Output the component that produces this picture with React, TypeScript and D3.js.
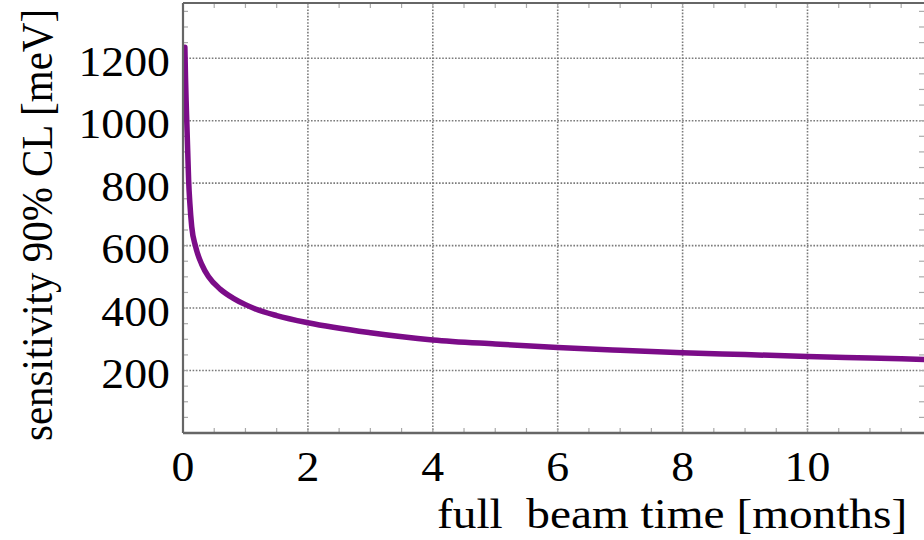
import React from "react";
import * as d3 from "d3";

const months = [0.03, 0.04, 0.05, 0.06, 0.075, 0.09, 0.11, 0.14, 0.2, 0.3, 0.41, 0.6, 0.8, 1.0, 1.15, 1.5, 2, 3, 4, 5, 6, 7, 8, 9, 10, 11, 12];
const sensitivity = [1235, 1140, 1065, 1000, 905, 810, 735, 660, 598, 540, 500, 460, 432, 411, 398, 376, 353, 321, 298, 285, 274, 265, 257, 251, 245, 240, 235];
const xTicks = [0, 2, 4, 6, 8, 10];
const yTicks = [200, 400, 600, 800, 1000, 1200];
const xTitle = "full  beam time [months]";
const yTitle = "sensitivity 90% CL [meV]";

const W = 924, H = 540;
const L = 183, R = 924, T = 3, B = 433;

export default function App() {
  const x = d3.scaleLinear().domain([0, (R - L) / 62.45]).range([L, R]);
  const y = d3.scaleLinear().domain([0, 1380]).range([B, T - 1]);
  const pts = months.map((m, i) => [m, sensitivity[i]] as [number, number]);
  const line = d3.line<[number, number]>().x(d => x(d[0])).y(d => y(d[1])).curve(d3.curveMonotoneX);
  const xMinor = d3.range(0, 12.01, 0.5);
  const yMinor = d3.range(0, 1400, 50);
  const gridX = [2, 4, 6, 8, 10, 12];
  const font = "Liberation Serif, Times New Roman, Times, serif";
  const sx = 1.09;
  return (
    <svg width={W} height={H} style={{ position: "fixed", left: 0, top: 0, background: "#fff" }}>
      <defs>
        <clipPath id="plot"><rect x={L} y={T} width={R - L} height={B - T} /></clipPath>
      </defs>
      <rect x={0} y={0} width={W} height={H} fill="#fff" />
      <g clipPath="url(#plot)">
        {gridX.map(v => (
          <line key={"gx" + v} x1={x(v)} x2={x(v)} y1={T} y2={B} stroke="#7a7a7a" strokeWidth={1.6} strokeDasharray="1.6,1.6" />
        ))}
        {yTicks.map(v => (
          <line key={"gy" + v} x1={L} x2={R} y1={y(v)} y2={y(v)} stroke="#7a7a7a" strokeWidth={1.6} strokeDasharray="1.6,1.6" />
        ))}
        {xMinor.map(v => (
          <g key={"xm" + v}>
            <line x1={x(v)} x2={x(v)} y1={T} y2={T + 5} stroke="#aaa" strokeWidth={1.2} />
            <line x1={x(v)} x2={x(v)} y1={B} y2={B - 5} stroke="#aaa" strokeWidth={1.2} />
          </g>
        ))}
        {yMinor.map(v => (
          <g key={"ym" + v}>
            <line x1={L} x2={L + 5} y1={y(v)} y2={y(v)} stroke="#aaa" strokeWidth={1.2} />
            <line x1={R} x2={R - 5} y1={y(v)} y2={y(v)} stroke="#aaa" strokeWidth={1.2} />
          </g>
        ))}
        <path d={line(pts) || ""} fill="none" stroke="#7b0c88" strokeWidth={5.5} strokeLinecap="round" strokeLinejoin="round" />
      </g>
      <line x1={L} x2={R} y1={T} y2={T} stroke="#666" strokeWidth={2.2} />
      <line x1={L} x2={R} y1={B} y2={B} stroke="#666" strokeWidth={2.6} />
      <line x1={L} x2={L} y1={T} y2={B} stroke="#666" strokeWidth={2.2} />
      {yTicks.map(v => (
        <text key={"yl" + v} transform={`translate(170,${y(v) + 17.5}) scale(${sx},1)`} textAnchor="end" fontFamily={font} fontSize={42} fill="#000">{v}</text>
      ))}
      {xTicks.map(v => (
        <text key={"xl" + v} transform={`translate(${x(v)},481) scale(${sx},1)`} textAnchor="middle" fontFamily={font} fontSize={42} fill="#000">{v}</text>
      ))}
      <text transform={`translate(437,528) scale(1.1,1)`} textAnchor="start" fontFamily={font} fontSize={43} fill="#000" style={{ whiteSpace: "pre" }}>{xTitle}</text>
      <text transform={`translate(52,225) scale(1.07,1) rotate(-90)`} textAnchor="middle" fontFamily={font} fontSize={41} fill="#000">{yTitle}</text>
    </svg>
  );
}
